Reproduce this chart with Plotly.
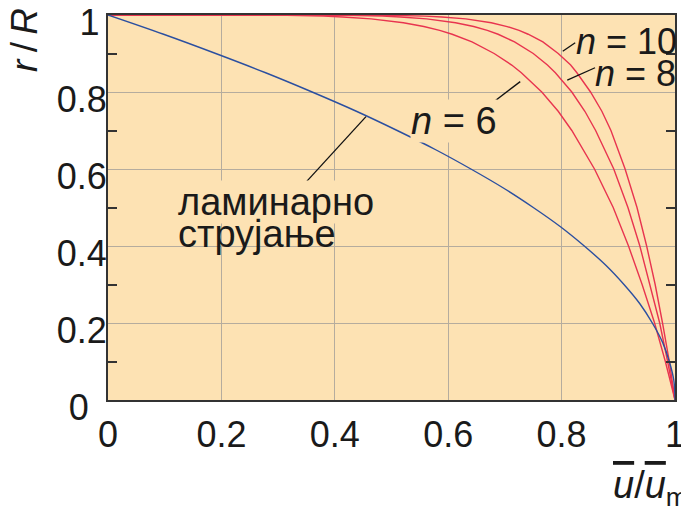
import plotly.graph_objects as go

# ---- data ----
# laminar profile: r/R vs u/u_max
lam_r = [1.0, 0.95, 0.9, 0.85, 0.8, 0.75, 0.7, 0.65, 0.6, 0.55, 0.5, 0.45, 0.4,
         0.35, 0.3, 0.25, 0.2, 0.15, 0.1, 0.05, 0.0]
lam_u = [0.0, 0.098, 0.19, 0.278, 0.36, 0.438, 0.51, 0.578, 0.64, 0.698, 0.75,
         0.798, 0.84, 0.878, 0.91, 0.938, 0.96, 0.978, 0.99, 0.998, 1.0]

# turbulent profiles (n = 6, 8, 10)
turb_r = [1.0, 0.9999, 0.999, 0.997, 0.995, 0.99, 0.98, 0.97, 0.96, 0.95, 0.93,
          0.9, 0.87, 0.85, 0.8, 0.75, 0.7, 0.6, 0.5, 0.4, 0.3, 0.2, 0.1, 0.0]
turb_u6 = [0.0, 0.215, 0.316, 0.380, 0.414, 0.464, 0.521, 0.557, 0.585, 0.607, 0.642,
           0.681, 0.712, 0.729, 0.765, 0.794, 0.818, 0.858, 0.891, 0.918, 0.942, 0.964, 0.983, 1.0]
turb_u8 = [0.0, 0.316, 0.422, 0.484, 0.516, 0.562, 0.613, 0.645, 0.669, 0.688, 0.717,
           0.750, 0.775, 0.789, 0.818, 0.841, 0.860, 0.892, 0.917, 0.938, 0.956, 0.973, 0.987, 1.0]
turb_u10 = [0.0, 0.398, 0.501, 0.559, 0.589, 0.631, 0.676, 0.704, 0.725, 0.741, 0.767,
            0.794, 0.816, 0.827, 0.851, 0.871, 0.887, 0.912, 0.933, 0.950, 0.965, 0.978, 0.990, 1.0]

x_ticks = [0, 0.2, 0.4, 0.6, 0.8, 1]
x_tick_labels = ["0", "0.2", "0.4", "0.6", "0.8", "1"]
y_ticks = [0, 0.2, 0.4, 0.6, 0.8, 1]
y_tick_labels = ["0\u2002", "0.2", "0.4", "0.6", "0.8", "1\u2009"]
y_minor_ticks = [0.1, 0.3, 0.5, 0.7, 0.9]

FONT = "Liberation Sans, Arial, Helvetica, sans-serif"
RED = "#E8344F"
BLUE = "#2B4FA0"
BG = "#FDE2B3"
GRID = "#B5AC9E"
AXC = "#333333"
TXT = "#1a1a1a"

fig = go.Figure()
for u in (turb_u6, turb_u8, turb_u10):
    fig.add_trace(go.Scatter(x=u, y=turb_r, mode="lines",
                             line=dict(color=RED, width=1.4),
                             cliponaxis=False, hoverinfo="skip"))
fig.add_trace(go.Scatter(x=lam_u, y=lam_r, mode="lines",
                         line=dict(color=BLUE, width=1.4, shape="spline"),
                         cliponaxis=False, hoverinfo="skip"))

# leader lines
leaders = [((0.802, 0.906), (0.824, 0.928)),
           ((0.810, 0.831), (0.859, 0.863)),
           ((0.727, 0.827), (0.677, 0.771)),
           ((0.455, 0.736), (0.340, 0.551))]
for (x0, y0), (x1, y1) in leaders:
    fig.add_shape(type="line", x0=x0, y0=y0, x1=x1, y1=y1, xref="x", yref="y",
                  line=dict(color="#111111", width=1.3))

def ann(text, x, y, size, xanchor="center", bg=None, **kw):
    fig.add_annotation(text=text, x=x, y=y, xref="x", yref="y", showarrow=False,
                       xanchor=xanchor, yanchor="middle",
                       font=dict(family=FONT, size=size, color=TXT),
                       bgcolor=bg, borderpad=0, **kw)

ann("<i>n</i> = 10", 0.914, 0.930, 36)
ann("<i>n</i> = 8", 0.931, 0.849, 36)
ann("<i>n</i> = 6", 0.610, 0.725, 38, bg=BG)
ann("ламинарно", 0.122, 0.515, 38, xanchor="left", bg=BG)
ann("струјање", 0.122, 0.432, 38, xanchor="left")

# axis titles
fig.add_annotation(text="<i>r</i>\u2009/\u2009<i>R</i>", xref="paper", yref="paper",
                   x=-0.148, y=0.935, textangle=-90, showarrow=False,
                   xanchor="center", yanchor="middle",
                   font=dict(family=FONT, size=37, color=TXT))
fig.add_annotation(text='<span style="text-decoration:overline"><i>u</i></span>/'
                        '<span style="text-decoration:overline"><i>u</i></span><sub>max</sub>',
                   xref="paper", yref="paper", x=(611 - 108) / 567, y=-0.228,
                   showarrow=False, xanchor="left", yanchor="middle",
                   font=dict(family=FONT, size=38, color=TXT))

fig.update_layout(
    template="none",
    width=681, height=509,
    margin=dict(l=108, r=6, t=15, b=109, autoexpand=False),
    paper_bgcolor="white", plot_bgcolor=BG,
    showlegend=False,
    font=dict(family=FONT, size=36, color=TXT),
)
fig.update_xaxes(range=[0, 1], tickvals=x_ticks, ticktext=x_tick_labels,
                 automargin=False,
                 showgrid=True, gridcolor=GRID, gridwidth=1,
                 showline=True, linecolor=AXC, linewidth=2, mirror=True,
                 ticks="", zeroline=False, ticklabelstandoff=2,
                 ticklabeloverflow="allow",
                 tickfont=dict(family=FONT, size=36, color=TXT))
fig.update_yaxes(range=[0, 1], tickvals=y_ticks, ticktext=y_tick_labels,
                 automargin=False,
                 showgrid=True, gridcolor=GRID, gridwidth=1,
                 showline=True, linecolor=AXC, linewidth=2, mirror="ticks",
                 ticks="", zeroline=False, ticklabelshift=7, ticklabelstandoff=-8,
                 ticklabeloverflow="allow",
                 minor=dict(ticks="inside", tickvals=y_minor_ticks,
                            ticklen=9, tickcolor=AXC, tickwidth=2, showgrid=False),
                 tickfont=dict(family=FONT, size=36, color=TXT))

fig.write_html("out.html", config={"displayModeBar": False},
               post_script="document.body.style.margin='0';")
